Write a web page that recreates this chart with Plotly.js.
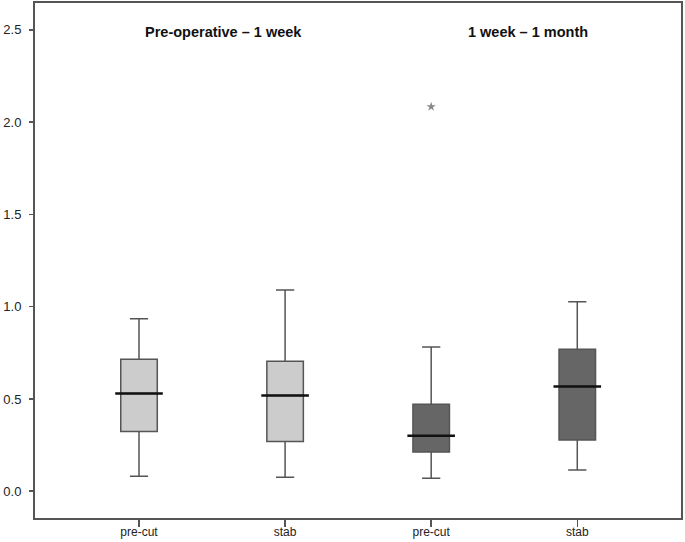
<!DOCTYPE html>
<html>
<head>
<meta charset="utf-8">
<script src="https://cdn.plot.ly/plotly-3.0.1.min.js"></script>
<style>html,body{margin:0;padding:0;background:#fff}#chart{width:685px;height:542px}</style>
</head>
<body>
<div id="chart"></div>
<script>
// Data
var positions = [0, 1, 2, 3];
var tickLabels = ["pre-cut", "stab", "pre-cut", "stab"];
var groupTitles = ["Pre-operative \u2013 1 week", "1 week \u2013 1 month"];
var lowerWhisker = [0.081, 0.076, 0.070, 0.115];
var q1 = [0.323, 0.269, 0.213, 0.278];
var median = [0.529, 0.518, 0.300, 0.567];
var q3 = [0.715, 0.704, 0.471, 0.769];
var upperWhisker = [0.935, 1.09, 0.782, 1.027];
var outlierX = [2];
var outlierY = [2.083];

function boxTrace(idx, fill) {
  return {
    type: "box",
    x: idx.map(function(i){return positions[i];}),
    q1: idx.map(function(i){return q1[i];}),
    median: idx.map(function(i){return median[i];}),
    q3: idx.map(function(i){return q3[i];}),
    lowerfence: idx.map(function(i){return lowerWhisker[i];}),
    upperfence: idx.map(function(i){return upperWhisker[i];}),
    width: 0.25,
    whiskerwidth: 0.5,
    fillcolor: fill,
    line: {color: "#555555", width: 1.5},
    boxpoints: false,
    hoverinfo: "skip"
  };
}

var data = [
  boxTrace([0, 1], "#cccccc"),
  boxTrace([2, 3], "#666666"),
  {
    type: "scatter", mode: "markers",
    x: positions, y: median,
    marker: {symbol: "line-ew", size: 34, line: {color: "#111111", width: 2.5}},
    hoverinfo: "skip"
  },
  {
    type: "scatter", mode: "markers",
    x: outlierX, y: outlierY,
    marker: {symbol: "star", size: 7, color: "#888888", line: {width: 0}},
    hoverinfo: "skip"
  }
];

var layout = {
  width: 685, height: 542,
  margin: {l: 35, r: 4, t: 3, b: 24},
  paper_bgcolor: "#ffffff", plot_bgcolor: "#ffffff",
  showlegend: false,
  boxmode: "overlay",
  font: {family: "Liberation Sans, Arial, sans-serif", color: "#222222"},
  xaxis: {
    range: [-0.712, 3.71],
    tickmode: "array", tickvals: positions, ticktext: tickLabels,
    ticks: "outside", ticklen: 7, tickwidth: 1.5, tickcolor: "#555555",
    tickfont: {size: 12, color: "#222222"},
    ticklabelstandoff: -5,
    showgrid: false, zeroline: false,
    showline: true, linecolor: "#555555", linewidth: 2, mirror: true
  },
  yaxis: {
    range: [-0.145, 2.645],
    tickmode: "array", tickvals: [0, 0.5, 1, 1.5, 2, 2.5],
    ticktext: ["0.0", "0.5", "1.0", "1.5", "2.0", "2.5"],
    ticks: "outside", ticklen: 4, tickwidth: 1.5, tickcolor: "#555555",
    tickfont: {size: 13, color: "#222222"},
    ticklabelstandoff: 5,
    showgrid: false, zeroline: false,
    showline: true, linecolor: "#555555", linewidth: 2, mirror: true
  },
  annotations: [
    {text: "<b>" + groupTitles[0] + "</b>", x: 0.58, y: 2.49, xref: "x", yref: "y",
     showarrow: false, font: {size: 14.5, color: "#111111"}},
    {text: "<b>" + groupTitles[1] + "</b>", x: 2.66, y: 2.49, xref: "x", yref: "y",
     showarrow: false, font: {size: 14.5, color: "#111111"}}
  ]
};

Plotly.newPlot("chart", data, layout, {staticPlot: true, displayModeBar: false});
</script>
</body>
</html>
